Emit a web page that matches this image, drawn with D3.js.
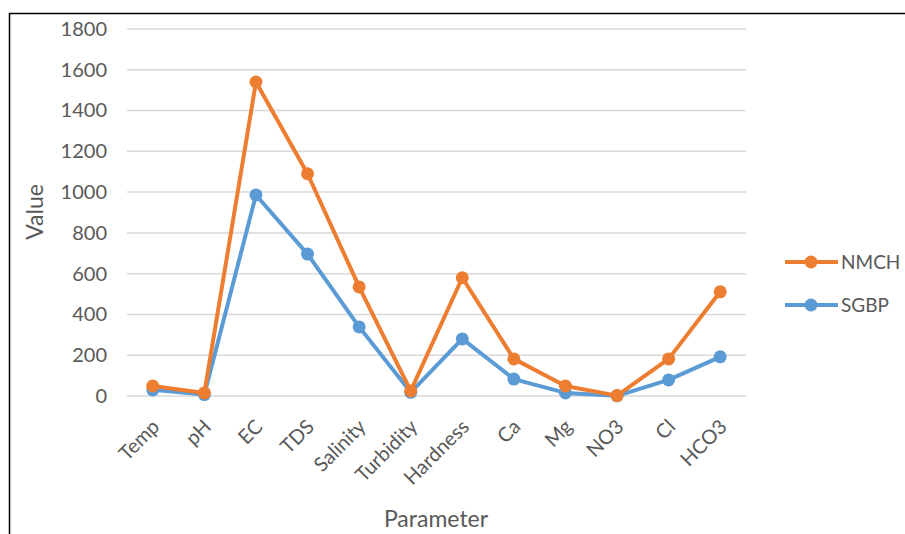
<!DOCTYPE html>
<html><head><meta charset="utf-8">
<script src="https://cdn.jsdelivr.net/npm/d3@7"></script>
<style>body{margin:0;background:#fff}svg{display:block}</style>
</head><body>
<script>
const categories = ["Temp","pH","EC","TDS","Salinity","Turbidity","Hardness","Ca","Mg","NO3","Cl","HCO3"];
const nmch = [49, 15, 1540, 1090, 535, 25, 580, 182, 49, 2, 182, 511];
const sgbp = [30, 7, 986, 696, 339, 18, 280, 83, 15, 1, 79, 192];
const yTicks = [0,200,400,600,800,1000,1200,1400,1600,1800];
const seriesNames = ["NMCH","SGBP"];
const colors = {NMCH:"#ED7D31", SGBP:"#5B9BD5"};

const W=905,H=534;
const svg=d3.select("body").append("svg").attr("width",W).attr("height",H);
const font="Lato, 'Open Sans', sans-serif";
// outer border (top & left visible)
svg.append("rect").attr("x",9.5).attr("y",13.5).attr("width",W+20).attr("height",H+20)
  .attr("fill","none").attr("stroke","#000").attr("stroke-width",1.5);

const x=d3.scaleBand().domain(categories).range([127,746]);
const y=d3.scaleLinear().domain([0,1800]).range([396,29]);

// gridlines
svg.append("g").selectAll("line").data(yTicks).join("line")
  .attr("x1",127).attr("x2",746).attr("y1",d=>y(d)).attr("y2",d=>y(d))
  .attr("stroke","#d9d9d9").attr("stroke-width",1.5);

// y axis
const ya=svg.append("g").attr("transform","translate(127,0)")
  .call(d3.axisLeft(y).tickValues(yTicks).tickFormat(d3.format("d")).tickSize(0).tickPadding(20));
ya.select(".domain").remove();
ya.selectAll("text").attr("font-family",font).attr("font-size",20).attr("fill","#595959");

// x axis labels
const xa=svg.append("g").attr("transform","translate(0,396)")
  .call(d3.axisBottom(x).tickSize(0).tickPadding(0));
xa.select(".domain").remove();
xa.selectAll("text").attr("font-family",font).attr("font-size",20).attr("fill","#595959")
  .attr("text-anchor","end").attr("dy",0)
  .attr("transform","translate(8,32) rotate(-45)");

// titles
svg.append("text").attr("x",436).attr("y",527).attr("text-anchor","middle")
  .attr("font-family",font).attr("font-size",23).attr("fill","#595959").text("Parameter");
svg.append("text").attr("transform","translate(43,212) rotate(-90)").attr("text-anchor","middle")
  .attr("font-family",font).attr("font-size",23).attr("fill","#595959").text("Value");

const line=d3.line().x((d,i)=>x(categories[i])+x.bandwidth()/2).y(d=>y(d));
const data={NMCH:nmch,SGBP:sgbp};
["SGBP","NMCH"].forEach(name=>{
  const g=svg.append("g");
  g.append("path").datum(data[name]).attr("d",line).attr("fill","none")
    .attr("stroke",colors[name]).attr("stroke-width",4).attr("stroke-linejoin","round");
  g.selectAll("circle").data(data[name]).join("circle")
    .attr("cx",(d,i)=>x(categories[i])+x.bandwidth()/2).attr("cy",d=>y(d)).attr("r",6.5)
    .attr("fill",colors[name]);
});

// legend
seriesNames.forEach((name,i)=>{
  const ly=262+i*43;
  svg.append("line").attr("x1",785).attr("x2",838).attr("y1",ly).attr("y2",ly)
    .attr("stroke",colors[name]).attr("stroke-width",4);
  svg.append("circle").attr("cx",811).attr("cy",ly).attr("r",6.5).attr("fill",colors[name]);
  svg.append("text").attr("x",841).attr("y",ly).attr("dy","0.35em")
    .attr("font-family",font).attr("font-size",19).attr("fill","#595959").text(name);
});
</script>
</body></html>
